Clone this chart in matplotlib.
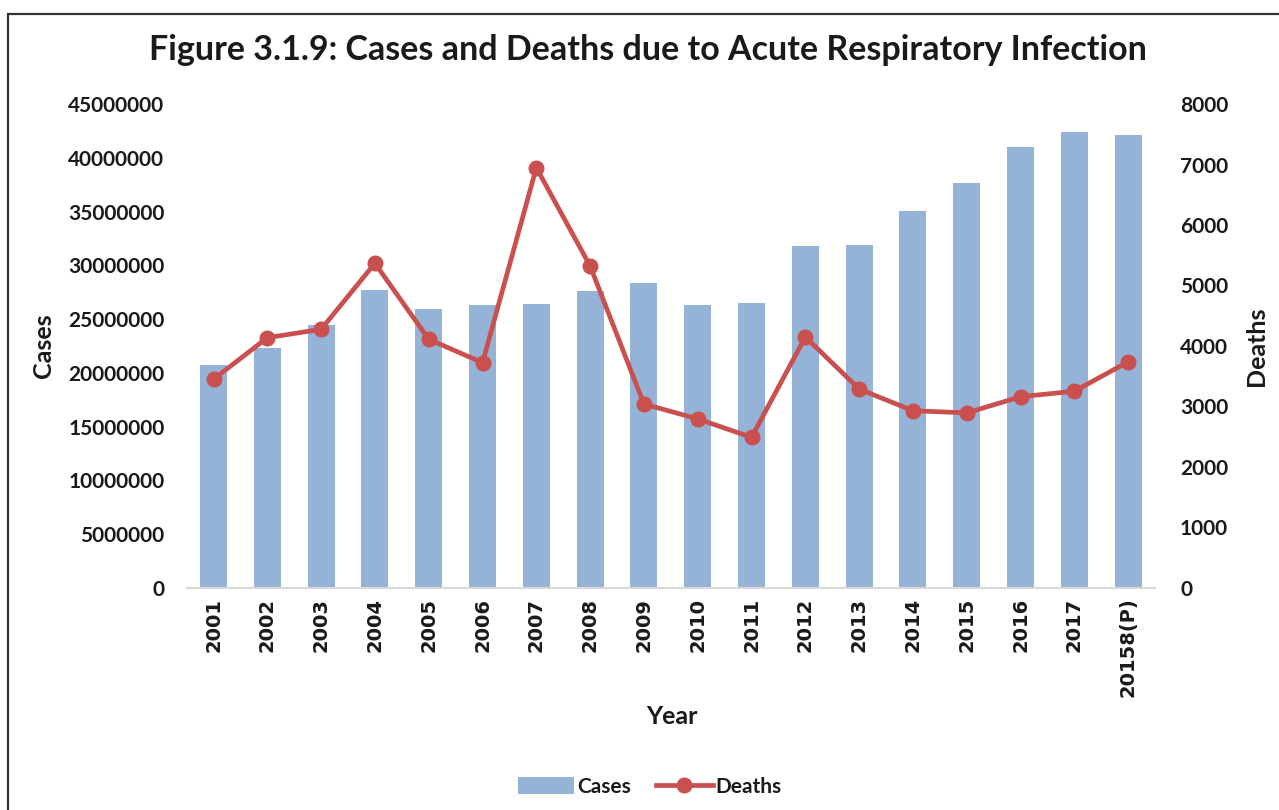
import numpy as np
import matplotlib
matplotlib.use("Agg")
import matplotlib.pyplot as plt
from matplotlib.patches import Rectangle

# values
years = ["2001", "2002", "2003", "2004", "2005", "2006", "2007", "2008", "2009",
         "2010", "2011", "2012", "2013", "2014", "2015", "2016", "2017", "20158(P)"]
cases = [20730000, 22310000, 24420000, 27680000, 25910000, 26340000, 26380000, 27590000,
         28390000, 26340000, 26470000, 31830000, 31920000, 35020000, 37680000, 40970000,
         42370000, 42150000]
deaths = [3450, 4137, 4276, 5367, 4111, 3724, 6947, 5322, 3041, 2795, 2490, 4150,
          3288, 2930, 2894, 3161, 3253, 3738]

case_ticks = list(range(0, 45000001, 5000000))
death_ticks = list(range(0, 8001, 1000))

bar_col = "#95B3D7"
line_col = "#C9504E"
txt_col = "#1a1a1a"
lab_font = "Lato"

fig = plt.figure(figsize=(12.79, 8.10), dpi=100)
ax = fig.add_axes([0.1459, 0.2741, 0.7572, 0.5975])
ax2 = ax.twinx()

x = np.arange(len(years))
bars = ax.bar(x, cases, width=0.5, color=bar_col, label="Cases", zorder=2)
line, = ax2.plot(x, deaths, color=line_col, lw=3.4, marker="o", ms=10.5,
                 label="Deaths", zorder=3)

ax.set_xlim(-0.5, len(years) - 0.5)
ax.set_ylim(0, 45000000)
ax2.set_ylim(0, 8000)
ax.set_yticks(case_ticks)
ax.set_yticklabels([str(v) for v in case_ticks], fontfamily=lab_font,
                   fontweight="bold", fontsize=15, color=txt_col)
ax2.set_yticks(death_ticks)
ax2.set_yticklabels([str(v) for v in death_ticks], fontfamily=lab_font,
                    fontweight="bold", fontsize=15, color=txt_col)
ax.set_xticks(x)
ax.set_xticklabels(years, rotation=90, fontfamily="DejaVu Sans",
                   fontweight="bold", fontsize=14, color=txt_col)

ax.tick_params(axis="y", length=0, pad=16)
ax2.tick_params(axis="y", length=0, pad=18)
ax.tick_params(axis="x", length=0, pad=7)

for a in (ax, ax2):
    for s in ("top", "left", "right", "bottom"):
        a.spines[s].set_visible(False)
ax.spines["bottom"].set_visible(True)
ax.spines["bottom"].set_color("#D9D9D9")
ax.spines["bottom"].set_linewidth(1.5)
ax.set_zorder(1)
ax2.set_zorder(2)
ax.patch.set_visible(False)

# axis titles placed where they sit in the reference
lab_kw = dict(fontfamily=lab_font, fontweight="bold", fontsize=18, color=txt_col,
              ha="center", va="center")
fig.text(44 / 1279, 1 - 346 / 810, "Cases", rotation=90, **lab_kw)
fig.text(1257 / 1279, 1 - 346 / 810, "Deaths", rotation=90, **lab_kw)
fig.text(672 / 1279, 1 - 717 / 810, "Year", **lab_kw)

fig.text(648 / 1279, 1 - 50 / 810,
         "Figure 3.1.9: Cases and Deaths due to Acute Respiratory Infection",
         ha="center", va="center", fontfamily=lab_font, fontweight="bold",
         fontsize=24.5, color=txt_col)

fig.legend(handles=[bars, line], labels=["Cases", "Deaths"], loc="center",
           bbox_to_anchor=(650 / 1279, 1 - 787 / 810), ncol=2, frameon=False,
           prop={"family": lab_font, "weight": "bold", "size": 15},
           handlelength=2.7, handleheight=0.85, handletextpad=0.15,
           columnspacing=1.2, labelcolor=txt_col)

# outer frame like the report figure
fig.patches.append(Rectangle((8 / 1279, -0.05), 1.1, 1 - 14 / 810 + 0.05,
                             transform=fig.transFigure, fill=False,
                             edgecolor="#333333", lw=1.6))

fig.savefig("out.png", dpi=100)
